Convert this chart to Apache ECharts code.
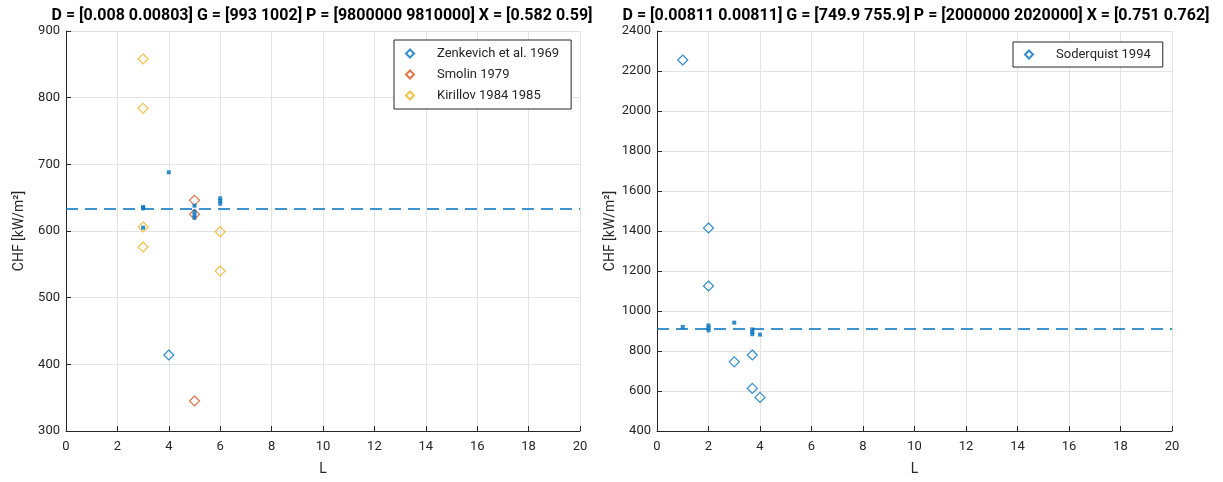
<!DOCTYPE html>
<html>
<head>
<meta charset="utf-8">
<script src="https://cdn.jsdelivr.net/npm/echarts@6/dist/echarts.min.js"></script>
<style>
  html, body { margin: 0; padding: 0; background: #fff; }
  #chart { width: 1223px; height: 482px; }
</style>
</head>
<body>
<div id="chart"></div>
<script>
// ---- Left panel: D = 0.008 m, G ~ 1000, P ~ 9.8 MPa ----
const leftTitle = 'D = [0.008 0.00803] G = [993 1002] P = [9800000 9810000] X = [0.582 0.59]';
const zenkevichL = [4];
const zenkevichCHF = [414];
const smolinL = [5, 5, 5];
const smolinCHF = [646, 625, 345];
const kirillovL = [3, 3, 3, 3, 6, 6];
const kirillovCHF = [858, 784, 606, 576, 599, 540];
const predLeftL = [3, 3, 3, 4, 5, 5, 5, 5, 6, 6, 6];
const predLeftCHF = [636, 634, 605, 688, 638, 629, 624, 620, 649, 645, 641];
const meanLeftCHF = 633;

// ---- Right panel: D = 0.00811 m, G ~ 750, P ~ 2 MPa ----
const rightTitle = 'D = [0.00811 0.00811] G = [749.9 755.9] P = [2000000 2020000] X = [0.751 0.762]';
const soderquistL = [1, 2, 2, 3, 3.7, 3.7, 4];
const soderquistCHF = [2255, 1415, 1125, 746, 780, 613, 568];
const predRightL = [1, 2, 2, 2, 3, 3.7, 3.7, 3.7, 4];
const predRightCHF = [920, 928, 915, 903, 942, 908, 895, 884, 882];
const meanRightCHF = 910;

const xRange = [0, 20];

const C_BLUE = '#0072BD', C_RED = '#D95319', C_YEL = '#EDB120';
const AX = '#262626';
const FONT = 'Roboto, "Noto Sans", sans-serif';

const pairs = (xs, ys) => xs.map((x, i) => [x, ys[i]]);

function xAxisCfg(grid) {
  return {
    gridIndex: grid, type: 'value', min: xRange[0], max: xRange[1], interval: 2,
    name: 'L', nameLocation: 'middle', nameGap: 31,
    nameTextStyle: { color: AX, fontSize: 14, fontFamily: FONT },
    axisLine: { show: true, onZero: false, lineStyle: { color: AX, width: 1 } },
    axisTick: { show: true, inside: true, length: 5, lineStyle: { color: AX } },
    axisLabel: { color: AX, fontSize: 13, fontFamily: FONT, margin: 9 },
    splitLine: { show: true, lineStyle: { color: '#e3e3e3', width: 1 } }
  };
}
function yAxisCfg(grid, min, max, interval) {
  return {
    gridIndex: grid, type: 'value', min, max, interval,
    name: 'CHF [kW/m\u00B2]', nameLocation: 'middle', nameGap: 40,
    nameTextStyle: { color: AX, fontSize: 14, fontFamily: FONT },
    axisLine: { show: true, onZero: false, lineStyle: { color: AX, width: 1 } },
    axisTick: { show: true, inside: true, length: 5, lineStyle: { color: AX } },
    axisLabel: { color: AX, fontSize: 13, fontFamily: FONT, margin: 6,
                 formatter: v => String(v) },
    splitLine: { show: true, lineStyle: { color: '#e3e3e3', width: 1 } }
  };
}

function measured(name, xs, ys, color, grid) {
  return {
    name, type: 'scatter', xAxisIndex: grid, yAxisIndex: grid,
    data: pairs(xs, ys), symbol: 'diamond', symbolSize: [10, 10],
    itemStyle: { color: 'rgba(0,0,0,0)', borderColor: color, borderWidth: 1.2 },
    z: 3
  };
}
function predicted(xs, ys, grid) {
  return {
    name: 'predicted', type: 'scatter', xAxisIndex: grid, yAxisIndex: grid,
    data: pairs(xs, ys), symbol: 'rect', symbolSize: [4, 4],
    itemStyle: { color: C_BLUE }, z: 4
  };
}
function meanLine(value, grid) {
  return {
    name: 'mean', type: 'line', xAxisIndex: grid, yAxisIndex: grid,
    data: [[xRange[0], value], [xRange[1], value]], symbol: 'none',
    lineStyle: { color: C_BLUE, width: 1.3, type: [12, 7] }, z: 2
  };
}

const legendCommon = {
  orient: 'vertical', itemWidth: 8, itemHeight: 8, itemGap: 8,
  borderColor: AX, borderWidth: 1, backgroundColor: '#fff', borderRadius: 0,
  textStyle: { color: AX, fontSize: 13, fontFamily: FONT, padding: [0, 0, 0, 18] },
  z: 10
};

const option = {
  animation: false,
  backgroundColor: '#fff',
  title: [
    { text: leftTitle, left: 317, top: 3, textAlign: 'center',
      textStyle: { fontSize: 16, fontWeight: 'bold', color: '#000', fontFamily: FONT } },
    { text: rightTitle, left: 911, top: 3, textAlign: 'center',
      textStyle: { fontSize: 16, fontWeight: 'bold', color: '#000', fontFamily: FONT } }
  ],
  grid: [
    { left: 66, top: 31, width: 514, height: 400 },
    { left: 657, top: 31, width: 515, height: 400 }
  ],
  xAxis: [xAxisCfg(0), xAxisCfg(1)],
  yAxis: [yAxisCfg(0, 300, 900, 100), yAxisCfg(1, 400, 2400, 200)],
  legend: [
    Object.assign({}, legendCommon, {
      data: ['Zenkevich et al. 1969', 'Smolin 1979', 'Kirillov 1984 1985'],
      left: 394, top: 40, padding: [7, 12, 7, 11]
    }),
    Object.assign({}, legendCommon, {
      data: ['Soderquist 1994'],
      left: 1013, top: 42, padding: [6, 12, 6, 11]
    })
  ],
  series: [
    meanLine(meanLeftCHF, 0),
    measured('Zenkevich et al. 1969', zenkevichL, zenkevichCHF, C_BLUE, 0),
    measured('Smolin 1979', smolinL, smolinCHF, C_RED, 0),
    measured('Kirillov 1984 1985', kirillovL, kirillovCHF, C_YEL, 0),
    predicted(predLeftL, predLeftCHF, 0),
    meanLine(meanRightCHF, 1),
    measured('Soderquist 1994', soderquistL, soderquistCHF, C_BLUE, 1),
    predicted(predRightL, predRightCHF, 1)
  ]
};

echarts.init(document.getElementById('chart'), null, { renderer: 'canvas' }).setOption(option);
</script>
</body>
</html>
